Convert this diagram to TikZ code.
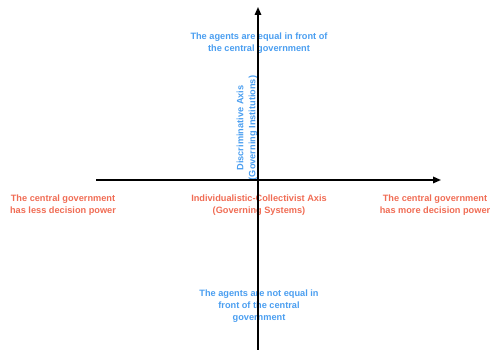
\documentclass[tikz,border=0pt]{standalone}
\usepackage{fontspec}
\setmainfont{Liberation Sans}
\usetikzlibrary{arrows.meta}
\definecolor{govred}{RGB}{240,108,84}
\definecolor{agentblue}{RGB}{74,158,240}

\begin{document}
\begin{tikzpicture}
    [x=1pt,y=1pt,
     rotulo/.style={font=\bfseries\fontsize{9.2}{11.8}\selectfont,align=center,inner sep=0pt},
     vermelho/.style={rotulo,text=govred},
     azul/.style={rotulo,text=agentblue},
     eixo/.style={line width=1.6pt,-{Triangle[length=8pt,width=6.5pt]}} ]

    \useasboundingbox (0,0) rectangle (491,350);

    \coordinate (xini) at (96,170);
    \coordinate (xfim) at (441,170);
    \coordinate (yini) at (258,0);
    \coordinate (yfim) at (258,343);

    \node (topo) at (259,307) [azul] {The agents are equal in front of\\the central government};
    \node (base) at (259,44) [azul] {The agents are not equal in\\front of the central\\government};
    \node (disc) at (247,222) [azul,rotate=90] {Discriminative Axis\\(Governing Institutions)};

    \node (menos) at (63,145) [vermelho] {The central government\\has less decision power};
    \node (mais) at (435,145) [vermelho] {The central government\\has more decision power};
    \node (indiv) at (259,145) [vermelho] {Individualistic-Collectivist Axis\\(Governing Systems)};

    \draw[eixo] (xini) -- (xfim);
    \draw[eixo] (yini) -- (yfim);

\end{tikzpicture}
\end{document}
